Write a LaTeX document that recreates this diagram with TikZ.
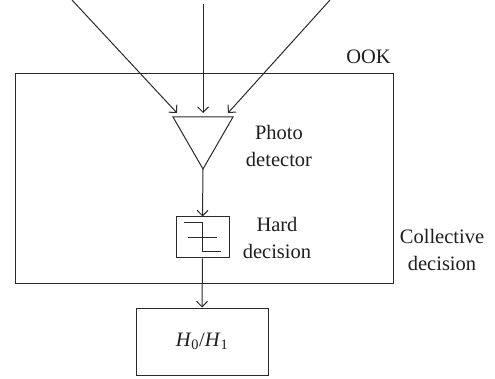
\documentclass[tikz,border=0pt]{standalone}
\usepackage{fontspec}
\setmainfont{Liberation Serif}
\usetikzlibrary{arrows.meta}
\definecolor{ink}{HTML}{2A2A2A}
\definecolor{txt}{HTML}{1E1E1E}
\begin{document}
\begin{tikzpicture}[x=1pt,y=-1pt,
  line/.style={draw=ink,line width=1pt},
  arr/.style={line,-{Straight Barb[length=5.5pt,width=11pt,line width=1pt]}},
  lbl/.style={text=txt,align=center,font=\fontsize{20.5}{27}\selectfont,inner sep=0pt},
  boxnode/.style={line,inner sep=0pt}]
\useasboundingbox (0,0) rectangle (495,379);
% outer box
\node[boxnode,minimum width=378pt,minimum height=209pt] (ook) at (204,178.5) {};
\node[lbl,anchor=east] (ooklbl) at (391,57) {OOK};
% photodetector triangle
\coordinate (pdL) at (173,117);
\coordinate (pdR) at (233,117);
\coordinate (pdA) at (203,169);
\draw[line,line join=miter] (pdL) -- (pdR) -- (pdA) -- cycle;
\node[lbl] (pdlbl) at (279,146) {Photo\\detector};
% incoming rays
\coordinate (s1) at (72,0);
\coordinate (s2) at (203,4);
\coordinate (s3) at (330,0);
\coordinate (t1) at (177,113);
\coordinate (t2) at (203,113);
\coordinate (t3) at (228,113);
\draw[arr] (s1) -- (t1);
\draw[arr] (s2) -- (t2);
\draw[arr] (s3) -- (t3);
% hard decision box
\node[boxnode,minimum width=53pt,minimum height=41pt] (hd) at (202.5,237.5) {};
\draw[line] (184,223) -- (202,223) -- (202,252) -- (221,252);
\draw[line] (188,238) -- (217,238);
\node[lbl] (hdlbl) at (277,238) {Hard\\decision};
\draw[arr] (pdA) -- (hd.north);
% collective decision
\node[lbl] (cdlbl) at (442,250) {Collective\\decision};
% H0/H1 box
\node[boxnode,minimum width=132pt,minimum height=67pt,text=txt,font=\fontsize{20.5}{24}\selectfont] (h) at (202,341.5) {\textit{H}\textsubscript{0}/\textit{H}\textsubscript{1}};
\draw[arr] (hd.south) -- (h.north);
\end{tikzpicture}
\end{document}
